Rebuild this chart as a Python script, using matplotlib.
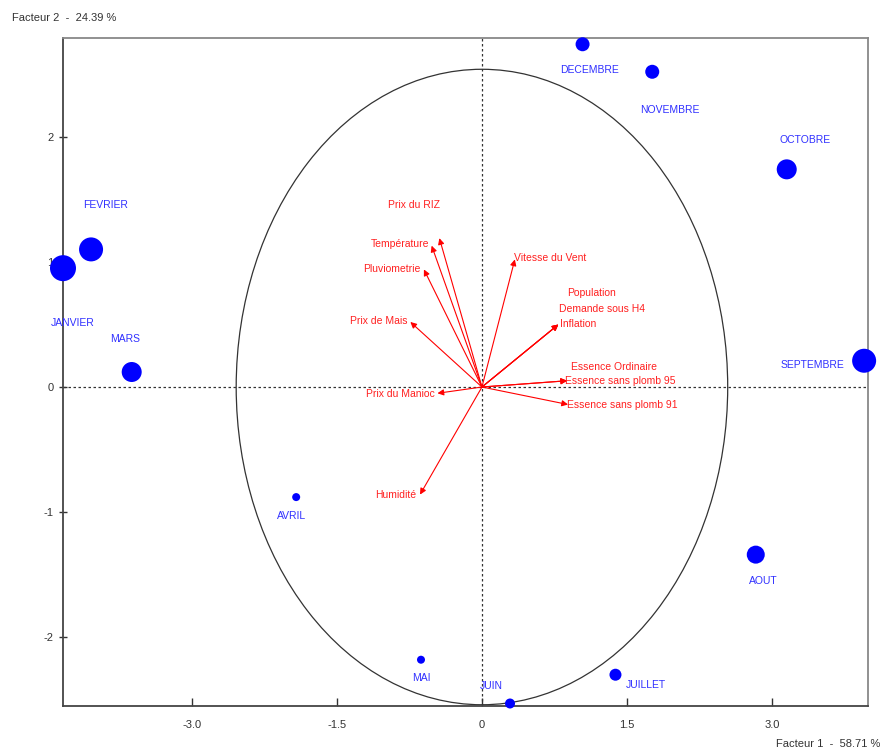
import matplotlib
matplotlib.use("Agg")
import matplotlib.pyplot as plt
from matplotlib.patches import Circle

plt.rcParams['font.family'] = ['Liberation Sans Narrow', 'Liberation Sans', 'DejaVu Sans']
plt.rcParams['axes.unicode_minus'] = False

# individuals (months) on factor 1 / factor 2
months = ['JANVIER', 'FEVRIER', 'MARS', 'AVRIL', 'MAI', 'JUIN',
          'JUILLET', 'AOUT', 'SEPTEMBRE', 'OCTOBRE', 'NOVEMBRE', 'DECEMBRE']
month_f1 = [-4.33, -4.04, -3.62, -1.92, -0.63, 0.29, 1.38, 2.83, 3.95, 3.15, 1.76, 1.04]
month_f2 = [0.95, 1.10, 0.12, -0.88, -2.18, -2.53, -2.30, -1.34, 0.21, 1.74, 2.52, 2.74]
# quality of representation (drives marker size)
month_quality = [13, 12, 10, 4, 4, 5, 6, 9, 12, 10, 7, 7]

# variables (arrow tips)
variables = ['Prix du RIZ', 'Température', 'Pluviometrie', 'Prix de Mais', 'Prix du Manioc',
             'Humidité', 'Vitesse du Vent', 'Population', 'Demande sous H4', 'Inflation',
             'Essence Ordinaire', 'Essence sans plomb 95', 'Essence sans plomb 91']
var_f1 = [-0.44, -0.52, -0.60, -0.74, -0.46, -0.64, 0.34, 0.79, 0.79, 0.79, 0.88, 0.88, 0.89]
var_f2 = [1.19, 1.13, 0.94, 0.52, -0.05, -0.86, 1.02, 0.50, 0.50, 0.50, 0.05, 0.05, -0.14]

circle_radius = 2.54

# label offsets in pixels (style, not data)
month_offsets = [(10, -55), (15, 44), (-7, 33), (-5, -19), (0, -18), (-19, 17),
                 (30, -10), (8, -26), (-52, -4), (18, 29), (18, -38), (7, -26)]
var_offsets = [(-25, 33), (-32, 2), (-32, 0), (-32, 1), (-37, -1), (-24, 0), (35, 1),
               (33, 31), (44, 15), (20, 0), (47, 14), (53, 0), (54, 0)]

fig = plt.figure(figsize=(8.84, 7.53), dpi=100)
ax = fig.add_axes([63/884, 1 - 706/753, (868 - 63)/884, (706 - 38)/753])

ax.set_xlim(-4.33, 3.99)
ax.set_ylim(-2.55, 2.79)

# axes through the origin
ax.axhline(0, color='#333333', linestyle=(0, (2, 2)), linewidth=0.9)
ax.axvline(0, color='#333333', linestyle=(0, (2, 2)), linewidth=0.9)

# correlation circle
ax.add_patch(Circle((0, 0), circle_radius, fill=False, edgecolor='#333333', linewidth=0.9))

# variable arrows
for name, x, y, off in zip(variables, var_f1, var_f2, var_offsets):
    ax.annotate('', xy=(x, y), xytext=(0, 0),
                arrowprops=dict(arrowstyle='-|>', color='red', lw=0.8,
                                mutation_scale=9, shrinkA=0, shrinkB=0))
    ax.annotate(name, xy=(x, y), xytext=off, textcoords='offset pixels',
                ha='center', va='center', color='#ff2020', fontsize=7.5)

# months
sizes = [(2 * r * 0.72) ** 2 for r in month_quality]
ax.scatter(month_f1, month_f2, s=sizes, color='#0000ff', zorder=5, clip_on=False,
           linewidths=0)
for name, x, y, off in zip(months, month_f1, month_f2, month_offsets):
    ax.annotate(name, xy=(x, y), xytext=off, textcoords='offset pixels',
                ha='center', va='center', color='#3030ff', fontsize=7.5)

ax.set_xticks([-3.0, -1.5, 0, 1.5, 3.0])
ax.set_xticklabels(['-3.0', '-1.5', '0', '1.5', '3.0'])
ax.set_yticks([-2, -1, 0, 1, 2])
ax.set_yticklabels(['-2', '-1', '0', '1', '2'])
ax.tick_params(axis='x', direction='in', length=6, width=1, labelsize=8,
               colors='#333333', pad=10)
ax.tick_params(axis='y', direction='inout', length=6, width=1, labelsize=8,
               colors='#333333', pad=4)

for side in ['left', 'bottom']:
    ax.spines[side].set_color('#444444')
    ax.spines[side].set_linewidth(1.3)
for side in ['top', 'right']:
    ax.spines[side].set_color('#888888')
    ax.spines[side].set_linewidth(1.3)

fig.text(12/884, 1 - 18/753, 'Facteur 2  -  24.39 %', ha='left', va='center',
         fontsize=8, color='#333333')
fig.text(880/884, 1 - 744/753, 'Facteur 1  -  58.71 %', ha='right', va='center',
         fontsize=8, color='#333333')

fig.savefig('out.png', dpi=100)
